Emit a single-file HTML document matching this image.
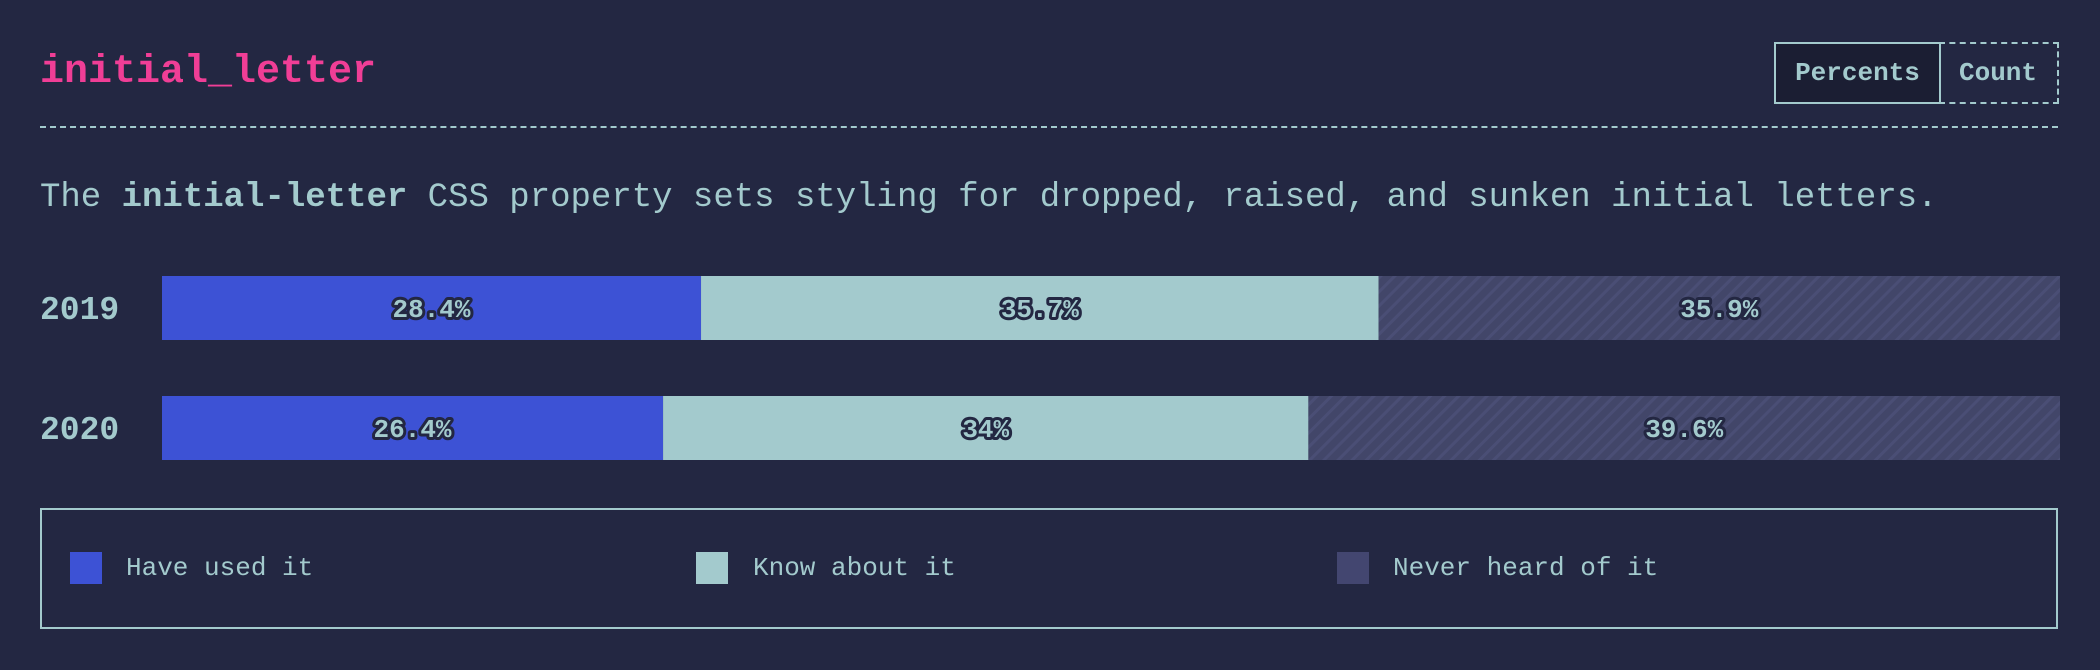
<!DOCTYPE html>
<html><head><meta charset="utf-8">
<style>
html,body{margin:0;padding:0;background:#232742;}
body{width:2100px;height:670px;position:relative;overflow:hidden;font-family:"Liberation Mono",monospace;color:#a3cacd;}
.abs{position:absolute;}
#title{left:40px;top:48px;font-size:40px;font-weight:bold;color:#f03e96;line-height:50px;}
#sep{left:40px;top:126px;width:2018px;border-top:2px dashed #a3cacd;}
.btn{top:42px;height:62px;box-sizing:border-box;font-size:26px;font-weight:bold;display:flex;align-items:center;justify-content:center;color:#a3cacd;}
#b1{left:1774px;width:167px;border:2px solid #a3cacd;background:#1b1e33;}
#b2{left:1939px;width:120px;border:2px dashed #a3cacd;border-left:none;}
#desc{left:40px;top:176px;font-size:34px;line-height:44px;white-space:nowrap;}
#legend{left:40px;top:508px;width:2018px;height:121px;box-sizing:border-box;border:2px solid #a3cacd;}
.sw{width:32px;height:32px;top:552px;}
.lt{top:552px;font-size:26px;line-height:32px;}
</style></head><body>
<div id="title" class="abs">initial_letter</div>
<div id="b1" class="abs btn">Percents</div>
<div id="b2" class="abs btn">Count</div>
<div id="sep" class="abs"></div>
<div id="desc" class="abs">The <b>initial-letter</b> CSS property sets styling for dropped, raised, and sunken initial letters.</div>
<svg id="chart" class="abs" style="left:0;top:0" width="2100" height="500">
<defs><pattern id="stripes" width="10" height="10" patternUnits="userSpaceOnUse" patternTransform="rotate(45)">
<rect width="10" height="10" fill="#424669"/><rect width="3" height="10" fill="#4a4e75"/></pattern></defs>
</svg>
<div id="legend" class="abs"></div>
<div class="abs sw" style="left:70px;background:#3d52d5"></div>
<div class="abs lt" style="left:126px">Have used it</div>
<div class="abs sw" style="left:696px;background:#a3cacd"></div>
<div class="abs lt" style="left:753px">Know about it</div>
<div class="abs sw" style="left:1337px;background:#434670"></div>
<div class="abs lt" style="left:1393px">Never heard of it</div>
<script>
const years = ["2019","2020"];
const usedIt = [28.4, 26.4];
const knowIt = [35.7, 34];
const neverHeard = [35.9, 39.6];
const series = [usedIt, knowIt, neverHeard];
const seriesNames = ["used","know","never"];
const fills = ["#3d52d5","#a3cacd","url(#stripes)"];
const x0 = 162, x1 = 2060, rowTop = 276, rowStep = 120, barH = 64;
const xScale = v => (v/100)*(x1-x0);
const svg = document.getElementById('chart');
const NS = "http://www.w3.org/2000/svg";
years.forEach((yr, i) => {
  const y = rowTop + i*rowStep;
  const lab = document.createElementNS(NS,'text');
  
  
  lab.setAttribute('x', 40); lab.setAttribute('y', y + barH/2 + 11);
  lab.setAttribute('font-family','Liberation Mono, monospace');
  lab.setAttribute('font-size','33'); lab.setAttribute('font-weight','bold');
  lab.setAttribute('fill','#a3cacd'); lab.textContent = yr;
  svg.appendChild(lab);
  let acc = 0;
  series.forEach((s, j) => {
    const v = s[i];
    const r = document.createElementNS(NS,'rect');
    
    
    r.setAttribute('x', x0 + xScale(acc)); r.setAttribute('y', y);
    r.setAttribute('width', xScale(v)); r.setAttribute('height', barH);
    r.setAttribute('fill', fills[j]);
    svg.appendChild(r);
    const t = document.createElementNS(NS,'text');
    
    
    t.setAttribute('x', x0 + xScale(acc + v/2)); t.setAttribute('y', y + barH/2 + 9);
    t.setAttribute('text-anchor','middle');
    t.setAttribute('font-family','Liberation Mono, monospace');
    t.setAttribute('font-size','26'); t.setAttribute('font-weight','bold');
    t.setAttribute('fill','#a3cacd'); t.setAttribute('stroke','#232742');
    t.setAttribute('stroke-width','6'); t.setAttribute('paint-order','stroke');
    t.setAttribute('stroke-linejoin','round');
    t.textContent = v + '%';
    svg.appendChild(t);
    acc += v;
  });
});
</script>
</body></html>
